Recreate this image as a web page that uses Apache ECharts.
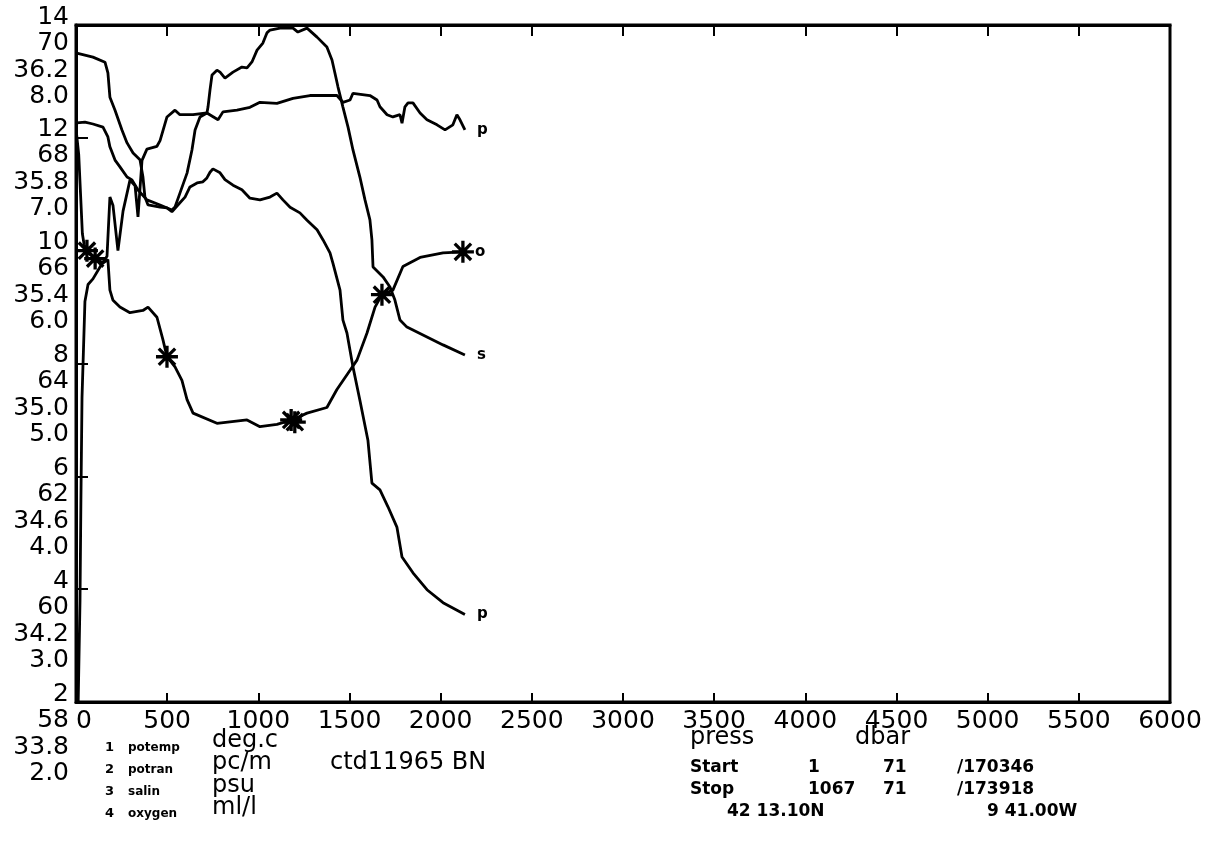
<!DOCTYPE html>
<html>
<head>
<meta charset="utf-8">
<script src="https://cdn.jsdelivr.net/npm/echarts@6/dist/echarts.min.js"></script>
<style>
html,body{margin:0;padding:0;background:#fff;}
#chart{width:1220px;height:851px;}
</style>
</head>
<body>
<div id="chart"></div>
<script>
// ---- tick labels ----
const tempTicks = [2, 4, 6, 8, 10, 12, 14];
const tranTicks = [58, 60, 62, 64, 66, 68, 70];
const salTicks  = [33.8, 34.2, 34.6, 35.0, 35.4, 35.8, 36.2];
const oxyTicks  = [2.0, 3.0, 4.0, 5.0, 6.0, 7.0, 8.0];

// ---- potemp (deg.c) ----
const potempPress = [4,93,159,175,186,214,252,280,313,351,367,378,395,461,499,526,570,598,625,664,696,718,735,751,790,817,861,910,954,1009,1064,1102,1135,1174,1228,1267,1322,1355,1393,1409,1448,1464,1486,1519,1557,1601,1623,1667,1711,1760,1788,1848,1925,2013,2133];
const potempVals  = [13.50,13.43,13.34,13.15,12.72,12.49,12.14,11.91,11.73,11.61,11.31,10.95,10.81,10.77,10.76,10.69,10.85,10.95,11.13,11.20,11.22,11.29,11.39,11.45,11.38,11.26,11.16,11.08,10.93,10.90,10.95,11.02,10.90,10.77,10.67,10.54,10.37,10.19,9.96,9.78,9.30,8.77,8.54,7.94,7.35,6.64,5.88,5.76,5.46,5.10,4.57,4.29,3.99,3.76,3.55];

// ---- potran (pc/m) ----
const potranPress = [12,22,27,33,49,66,93,148,170,186,203,230,258,296,324,340,362,389,444,461,499,543,570,642,718,779,806,883,954,1009,1102,1190,1283,1431,1464,1503,1519,1612,1651,1667,1706,1738,1777,1788,1804,1821,1848,1887,1925,1980,2024,2067,2089,2106,2133];
const potranVals  = [58.0,59.8,61.6,63.4,65.1,65.4,65.5,65.8,65.9,66.95,66.8,66.0,66.7,67.25,67.15,66.6,67.6,67.8,67.85,67.95,68.37,68.49,68.41,68.41,68.44,68.32,68.46,68.49,68.54,68.63,68.61,68.70,68.75,68.75,68.63,68.67,68.79,68.75,68.67,68.55,68.41,68.37,68.41,68.26,68.55,68.62,68.62,68.44,68.32,68.23,68.14,68.23,68.41,68.32,68.14];

// ---- salin (psu) ----
const salinPress = [5,49,93,148,175,186,214,241,280,307,340,389,461,526,543,570,609,636,653,680,718,724,735,746,773,790,817,861,910,938,965,993,1025,1047,1064,1119,1190,1217,1267,1322,1376,1404,1420,1437,1464,1492,1519,1557,1585,1612,1623,1629,1684,1722,1749,1777,1815,1925,2013,2133];
const salinVals  = [35.853,35.856,35.849,35.838,35.803,35.768,35.721,35.697,35.661,35.651,35.615,35.580,35.562,35.544,35.555,35.604,35.675,35.757,35.828,35.874,35.888,35.909,35.970,36.023,36.040,36.033,36.012,36.033,36.051,36.048,36.069,36.111,36.136,36.172,36.182,36.189,36.189,36.175,36.189,36.157,36.122,36.076,36.030,35.980,35.909,35.838,35.757,35.661,35.580,35.509,35.438,35.342,35.307,35.271,35.225,35.154,35.129,35.094,35.066,35.030];

// ---- oxygen (ml/l) ----
const oxyPress = [2,15,25,35,45,66,148,175,186,203,241,296,367,395,444,477,499,543,581,609,642,773,938,1009,1102,1185,1267,1376,1431,1503,1541,1596,1640,1678,1738,1793,1887,2013,2122];
const oxyVals  = [7.05,6.85,6.50,6.15,6.05,5.98,5.89,5.92,5.65,5.56,5.50,5.45,5.47,5.50,5.41,5.21,5.06,4.97,4.85,4.68,4.56,4.47,4.50,4.44,4.46,4.50,4.56,4.61,4.77,4.94,5.03,5.27,5.50,5.61,5.65,5.86,5.94,5.98,5.99];

// ---- oxygen bottle marks (asterisks) ----
const bottlePress = [60, 105, 499, 1180, 1200, 1678, 2122];
const bottleVals  = [6.00, 5.93, 5.06, 4.50, 4.48, 5.61, 5.99];

const curveLabels = ['p', 'p', 's', 'o'];

const zip = (a, b) => a.map((v, i) => [v, b[i]]);
const FONT = '"DejaVu Sans", sans-serif';
const asterisk = 'path://M8.5,0 h3 v20 h-3 z M0,8.5 h20 v3 h-20 z M1.5,3.6 L3.6,1.5 L18.5,16.4 L16.4,18.5 Z M16.4,1.5 L18.5,3.6 L3.6,18.5 L1.5,16.4 Z';

// shift = vertical offset (px) of the label centre from its tick;
// lines = number of text lines used (blank leading lines push the value down)
function yAx(ticks, shift, fmt, main, interval, lines) {
  const n = lines || 1;
  const lh = shift >= 0 ? (2 * shift) / (2 * n - 1) : -2 * shift;
  const pre = n > 1 ? '\n'.repeat(n - 1) : '';
  const ax = {
    type: 'value', position: 'left', offset: 0,
    min: ticks[0], max: ticks[ticks.length - 1],
    splitLine: { show: false },
    axisLine: { show: main, lineStyle: { color: '#000', width: 3 } },
    axisTick: { show: main, inside: true, length: 12, lineStyle: { color: '#000', width: 2 } },
    axisLabel: {
      customValues: ticks, formatter: v => pre + fmt(v), color: '#000', fontFamily: FONT, fontSize: 25,
      margin: 7, align: 'right', showMinLabel: true, showMaxLabel: true, hideOverlap: false,
      verticalAlign: shift >= 0 ? 'top' : 'bottom',
      lineHeight: lh
    }
  };
  if (interval) ax.interval = interval;
  return ax;
}

function lineSeries(name, press, vals, yi, lbl) {
  return {
    name, type: 'line', yAxisIndex: yi, data: zip(press, vals),
    showSymbol: false, symbol: 'none', animation: false,
    lineStyle: { color: '#000', width: 2.8 },
    endLabel: { show: true, formatter: lbl, distance: 12, color: '#000', fontFamily: FONT, fontWeight: 'bold', fontSize: 15 }
  };
}

const chart = echarts.init(document.getElementById('chart'), null, { renderer: 'canvas' });
const option = {
  backgroundColor: '#fff',
  animation: false,
  grid: { left: 76, right: 50, top: 25, bottom: 149, show: true, borderColor: '#000', borderWidth: 3, containLabel: false, outerBoundsMode: 'none' },
  xAxis: [
    {
      type: 'value', position: 'bottom', min: 0, max: 6000, interval: 500,
      splitLine: { show: false },
      axisLine: { show: true, lineStyle: { color: '#000', width: 3 } },
      axisTick: { inside: true, length: 9, lineStyle: { color: '#000', width: 2 } },
      axisLabel: { color: '#000', fontFamily: FONT, fontSize: 25, margin: 7, alignMinLabel: 'left', showMinLabel: true, showMaxLabel: true, formatter: v => String(v) }
    },
    {
      type: 'value', position: 'top', min: 0, max: 6000, interval: 500,
      splitLine: { show: false },
      axisLine: { show: true, lineStyle: { color: '#000', width: 3 } },
      axisTick: { inside: true, length: 11, lineStyle: { color: '#000', width: 2 } },
      axisLabel: { show: false }
    }
  ],
  yAxis: [
    yAx(tempTicks, -8, v => String(v), true, 2, 1),
    yAx(tranTicks, 18, v => String(v), false, 2, 1),
    yAx(salTicks, 45, v => v.toFixed(1), false, 0, 1),
    yAx(oxyTicks, 71, v => v.toFixed(1), false, 1, 2)
  ],
  series: [
    lineSeries('potemp', potempPress, potempVals, 0, curveLabels[0]),
    lineSeries('potran', potranPress, potranVals, 1, curveLabels[1]),
    lineSeries('salin', salinPress, salinVals, 2, curveLabels[2]),
    lineSeries('oxygen', oxyPress, oxyVals, 3, curveLabels[3]),
    {
      name: 'bottles', type: 'scatter', yAxisIndex: 3, data: zip(bottlePress, bottleVals),
      symbol: asterisk, symbolSize: 22, itemStyle: { color: '#000', opacity: 1 }, animation: false
    }
  ],
  graphic: [
    // legend block, left
    { type: 'text', x: 105, y: 748, style: { text: '1', font: 'bold 13px ' + FONT, fill: '#000', verticalAlign: 'middle' } },
    { type: 'text', x: 128, y: 748, style: { text: 'potemp', font: 'bold 12px ' + FONT, fill: '#000', verticalAlign: 'middle' } },
    { type: 'text', x: 212, y: 741, style: { text: 'deg.c', font: '24px ' + FONT, fill: '#000', verticalAlign: 'middle' } },
    { type: 'text', x: 105, y: 770, style: { text: '2', font: 'bold 13px ' + FONT, fill: '#000', verticalAlign: 'middle' } },
    { type: 'text', x: 128, y: 770, style: { text: 'potran', font: 'bold 12px ' + FONT, fill: '#000', verticalAlign: 'middle' } },
    { type: 'text', x: 212, y: 763, style: { text: 'pc/m', font: '24px ' + FONT, fill: '#000', verticalAlign: 'middle' } },
    { type: 'text', x: 330, y: 763, style: { text: 'ctd11965 BN', font: '24px ' + FONT, fill: '#000', verticalAlign: 'middle' } },
    { type: 'text', x: 105, y: 792, style: { text: '3', font: 'bold 13px ' + FONT, fill: '#000', verticalAlign: 'middle' } },
    { type: 'text', x: 128, y: 792, style: { text: 'salin', font: 'bold 12px ' + FONT, fill: '#000', verticalAlign: 'middle' } },
    { type: 'text', x: 212, y: 786, style: { text: 'psu', font: '24px ' + FONT, fill: '#000', verticalAlign: 'middle' } },
    { type: 'text', x: 105, y: 814, style: { text: '4', font: 'bold 13px ' + FONT, fill: '#000', verticalAlign: 'middle' } },
    { type: 'text', x: 128, y: 814, style: { text: 'oxygen', font: 'bold 12px ' + FONT, fill: '#000', verticalAlign: 'middle' } },
    { type: 'text', x: 212, y: 808, style: { text: 'ml/l', font: '24px ' + FONT, fill: '#000', verticalAlign: 'middle' } },
    // info block, right
    { type: 'text', x: 690, y: 738, style: { text: 'press', font: '24px ' + FONT, fill: '#000', verticalAlign: 'middle' } },
    { type: 'text', x: 855, y: 738, style: { text: 'dbar', font: '24px ' + FONT, fill: '#000', verticalAlign: 'middle' } },
    { type: 'text', x: 690, y: 768, style: { text: 'Start', font: 'bold 17px ' + FONT, fill: '#000', verticalAlign: 'middle' } },
    { type: 'text', x: 808, y: 768, style: { text: '1', font: 'bold 17px ' + FONT, fill: '#000', verticalAlign: 'middle' } },
    { type: 'text', x: 883, y: 768, style: { text: '71', font: 'bold 17px ' + FONT, fill: '#000', verticalAlign: 'middle' } },
    { type: 'text', x: 957, y: 768, style: { text: '/170346', font: 'bold 17px ' + FONT, fill: '#000', verticalAlign: 'middle' } },
    { type: 'text', x: 690, y: 790, style: { text: 'Stop', font: 'bold 17px ' + FONT, fill: '#000', verticalAlign: 'middle' } },
    { type: 'text', x: 808, y: 790, style: { text: '1067', font: 'bold 17px ' + FONT, fill: '#000', verticalAlign: 'middle' } },
    { type: 'text', x: 883, y: 790, style: { text: '71', font: 'bold 17px ' + FONT, fill: '#000', verticalAlign: 'middle' } },
    { type: 'text', x: 957, y: 790, style: { text: '/173918', font: 'bold 17px ' + FONT, fill: '#000', verticalAlign: 'middle' } },
    { type: 'text', x: 727, y: 812, style: { text: '42 13.10N', font: 'bold 17px ' + FONT, fill: '#000', verticalAlign: 'middle' } },
    { type: 'text', x: 987, y: 812, style: { text: '9 41.00W', font: 'bold 17px ' + FONT, fill: '#000', verticalAlign: 'middle' } }
  ]
};
chart.setOption(option);
</script>
</body>
</html>
